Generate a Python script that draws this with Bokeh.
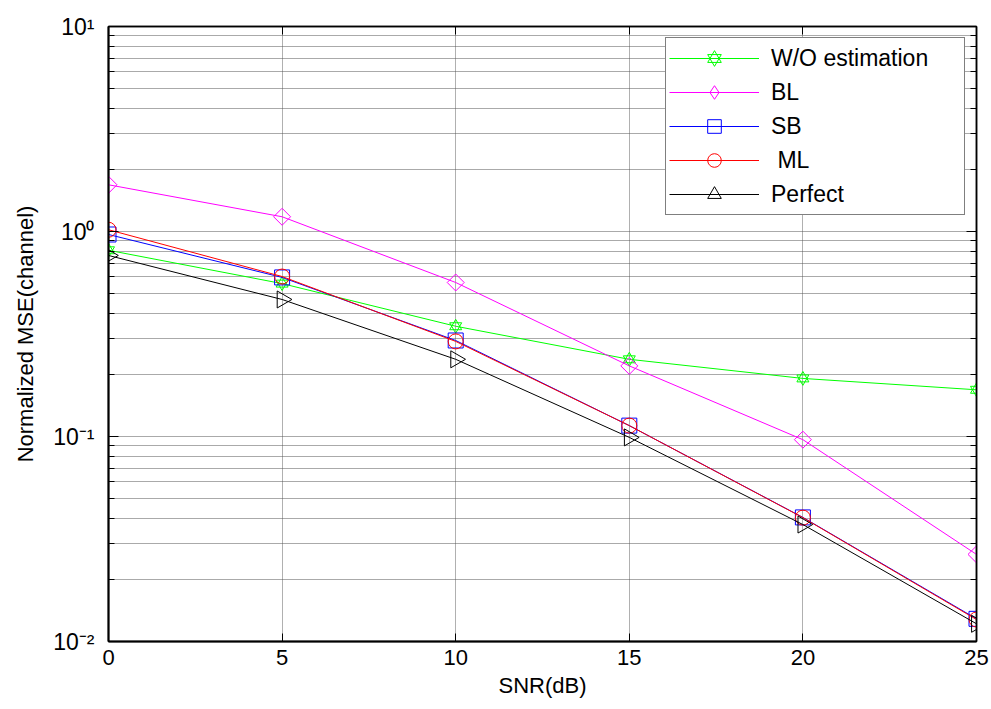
import numpy as np
from bokeh.plotting import figure
from bokeh.models import (FixedTicker, LogAxis, LinearAxis, Legend, LegendItem,
                          CustomJSTickFormatter, Range1d)
from bokeh.embed import file_html
from bokeh.resources import INLINE

# ---- data ----
snr = [0, 5, 10, 15, 20, 25]
wo_est = [0.81, 0.557, 0.345, 0.238, 0.192, 0.169]
bl = [1.69, 1.18, 0.564, 0.221, 0.0965, 0.0266]
sb = [0.967, 0.597, 0.294, 0.113, 0.0403, 0.0129]
ml = [1.02, 0.603, 0.291, 0.113, 0.0402, 0.0128]
perfect = [0.764, 0.466, 0.238, 0.099, 0.0372, 0.0122]

x_ticks = [0, 5, 10, 15, 20, 25]
y_major = [0.01, 0.1, 1, 10]
y_tick_labels = ["10\u207b\u00b2", "10\u207b\u00b9", "10\u2070", "10\u00b9"]
y_minor = [m * d for d in [0.01, 0.1, 1] for m in range(2, 10)]

FONT = "Liberation Sans"

p = figure(width=991, height=709, y_axis_type="log",
           x_range=Range1d(0, 25), y_range=Range1d(0.01, 10),
           output_backend="svg", toolbar_location=None,
           min_border_left=108, min_border_right=15, min_border_top=26, min_border_bottom=68)
p.background_fill_color = "white"
p.border_fill_color = "white"
p.outline_line_color = "black"
p.outline_line_width = 1.5

empty = CustomJSTickFormatter(code="return ''")

# x axis (bottom)
xa = p.xaxis[0]
xa.ticker = FixedTicker(ticks=x_ticks)
xa.major_tick_in = 8
xa.major_tick_out = 0
xa.minor_tick_in = 0
xa.minor_tick_out = 0
xa.axis_line_width = 2
xa.major_label_text_font = FONT
xa.major_label_text_font_size = "22px"
xa.major_label_text_color = "black"
xa.major_label_standoff = 8
xa.axis_label = "SNR(dB)"
xa.axis_label_text_font = FONT
xa.axis_label_text_font_size = "22px"
xa.axis_label_text_font_style = "normal"
xa.axis_label_text_color = "black"
xa.axis_label_standoff = 5

# y axis (left)
ya = p.yaxis[0]
ya.ticker = FixedTicker(ticks=y_major, minor_ticks=y_minor)
ya.formatter = empty
ya.major_label_overrides = {v: t for v, t in zip(y_major, y_tick_labels)}
ya.major_label_text_font = FONT
ya.major_label_text_font_size = "23px"
ya.major_label_text_color = "black"
ya.major_tick_in = 10
ya.major_tick_out = 0
ya.minor_tick_in = 6
ya.minor_tick_out = 0
ya.axis_line_width = 2
ya.major_label_standoff = 14
ya.axis_label = "Normalized MSE(channel)"
ya.axis_label_text_font = FONT
ya.axis_label_text_font_size = "22px"
ya.axis_label_text_font_style = "normal"
ya.axis_label_text_color = "black"
ya.axis_label_standoff = 12

# mirrored axes (top / right), ticks only
ta = LinearAxis(ticker=FixedTicker(ticks=x_ticks), formatter=empty,
                major_tick_in=8, major_tick_out=0, minor_tick_in=0, minor_tick_out=0,
                axis_line_width=1.5, major_label_standoff=0)
ra = LogAxis(ticker=FixedTicker(ticks=y_major, minor_ticks=y_minor), formatter=empty,
             major_tick_in=10, major_tick_out=0, minor_tick_in=6, minor_tick_out=0,
             axis_line_width=1.5, major_label_standoff=0)
p.add_layout(ta, "above")
p.add_layout(ra, "right")

# grids
p.xgrid.ticker = FixedTicker(ticks=x_ticks)
p.xgrid.grid_line_color = "#b0b0b0"
p.xgrid.grid_line_width = 1
p.ygrid.ticker = FixedTicker(ticks=y_major, minor_ticks=y_minor)
p.ygrid.grid_line_color = "#555555"
p.ygrid.grid_line_dash = "1 1"
p.ygrid.minor_grid_line_color = "#555555"
p.ygrid.minor_grid_line_dash = "1 1"

# series
g_line = p.line(snr, wo_est, line_color="#00ff00", line_width=1)
g_m1 = p.scatter(snr, wo_est, marker="triangle", size=12, line_color="#00ff00",
                 fill_color=None, line_width=1)
g_m2 = p.scatter(snr, wo_est, marker="inverted_triangle", size=12, line_color="#00ff00",
                 fill_color=None, line_width=1)

b_line = p.line(snr, bl, line_color="#ff00ff", line_width=1)
b_m = p.scatter(snr, bl, marker="square", angle=np.pi / 4, size=12, line_color="#ff00ff",
                fill_color=None, line_width=1)
# legend-only proxy (the legend cannot rotate markers); hidden in the plot
b_proxy = p.scatter(snr, bl, marker="diamond", size=17, line_color="#ff00ff",
                    fill_color=None, line_width=1, visible=False)

s_line = p.line(snr, sb, line_color="#0000ff", line_width=1)
s_m = p.scatter(snr, sb, marker="square", size=15, line_color="#0000ff",
                fill_color=None, line_width=1)

m_line = p.line(snr, ml, line_color="#ff0000", line_width=1)
m_m = p.scatter(snr, ml, marker="circle", size=15, line_color="#ff0000",
                fill_color=None, line_width=1)

k_line = p.line(snr, perfect, line_color="black", line_width=1)
k_m = p.scatter(snr, perfect, marker="triangle", angle=-np.pi / 2, size=17,
                line_color="black", fill_color=None, line_width=1)

legend = Legend(items=[
    LegendItem(label="W/O estimation", renderers=[g_line, g_m1, g_m2]),
    LegendItem(label="BL", renderers=[b_line, b_proxy]),
    LegendItem(label="SB", renderers=[s_line, s_m]),
    LegendItem(label=" ML", renderers=[m_line, m_m]),
    LegendItem(label="Perfect", renderers=[k_line, k_m]),
], location="top_right", margin=11)
legend.label_text_font = FONT
legend.label_text_font_size = "23px"
legend.label_text_color = "black"
legend.glyph_width = 90
legend.glyph_height = 34
legend.label_height = 20
legend.label_width = 190
legend.spacing = 0
legend.padding = 3
legend.label_standoff = 12
legend.border_line_color = "black"
legend.border_line_width = 1
legend.background_fill_color = "white"
legend.background_fill_alpha = 1
p.add_layout(legend)

open("out.html", "w").write(file_html(p, INLINE))
